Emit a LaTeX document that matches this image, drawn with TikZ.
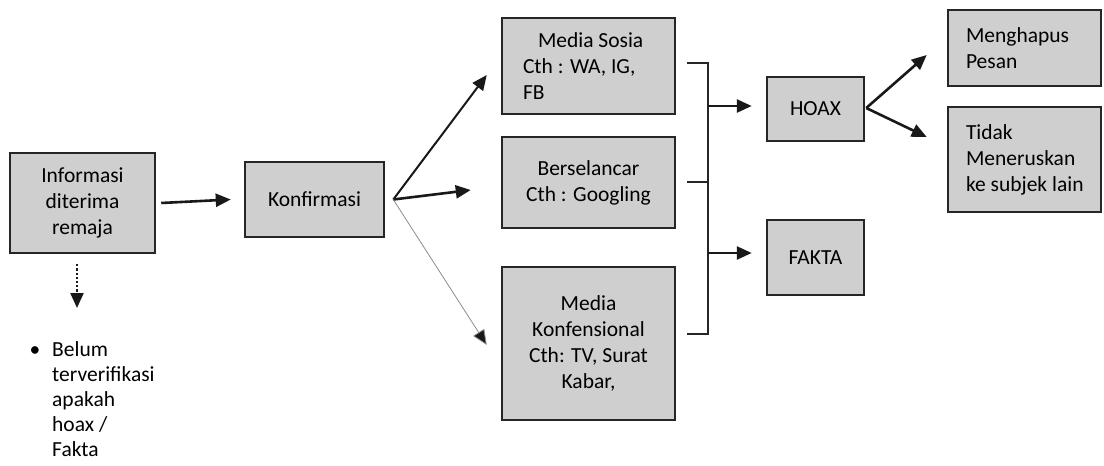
\documentclass[tikz,border=0pt]{standalone}
\usepackage{fontspec}
\setmainfont{Carlito}
\usetikzlibrary{arrows.meta}
\begin{document}
\begin{tikzpicture}[x=1pt,y=-1pt,
  box/.style={draw=black!85, line width=2.5pt, fill=black!19, inner sep=0pt,
    font=\fontsize{21.5}{26}\selectfont, align=flush center, text=black},
  lbox/.style={box, align=flush left},
  arr/.style={line width=2.6pt, draw=black!90, -{Triangle[length=15pt,width=13pt]}},
  thinarr/.style={line width=0.8pt, draw=black!45, -{Triangle[length=15pt,width=13pt,fill=black!90]}},
  brk/.style={line width=2.4pt, draw=black!85},
  note/.style={font=\fontsize{21.5}{25}\selectfont, align=flush left, inner sep=0pt, text=black}
]
\useasboundingbox (0,0) rectangle (1104,466);
% boxes
\node[box, minimum width=145pt, minimum height=100pt] (info) at (82.5,203) {Informasi\\diterima\\remaja};
\node[box, minimum width=139pt, minimum height=75pt] (konf) at (314.5,199.5) {Konfirmasi};
\node[lbox, minimum width=173pt, minimum height=96pt, text width=131pt] (sosia) at (588.5,66) {\mbox{\hspace*{15pt}Media Sosia}\\\mbox{Cth : WA, IG,}\\\mbox{FB}};
\node[box, minimum width=173pt, minimum height=91pt] (selancar) at (588.5,182.5) {Berselancar\\Cth : Googling};
\node[box, minimum width=173pt, minimum height=153pt] (konv) at (588.5,343.5) {Media\\Konfensional\\Cth: TV, Surat\\Kabar,};
\node[box, minimum width=97pt, minimum height=64pt] (hoax) at (815.5,109) {HOAX};
\node[box, minimum width=97pt, minimum height=75pt] (fakta) at (815.5,257.5) {FAKTA};
\node[lbox, minimum width=153pt, minimum height=76pt, text width=117pt] (hapus) at (1024.5,48) {\mbox{Menghapus}\\\mbox{Pesan}};
\node[lbox, minimum width=153pt, minimum height=105pt, text width=117pt] (tidak) at (1024.5,159.5) {\mbox{Tidak}\\\mbox{Meneruskan}\\\mbox{ke subjek lain}};
% note
\node[note, anchor=center] (bul) at (35,352) {\textbullet};
\node[note, anchor=north west] (txt) at (52,341) {Belum\\terverifikasi\\apakah\\hoax /\\Fakta};
% connectors
\draw[arr] ([xshift=5pt]info.east) -- ([xshift=-13pt]konf.west);
\coordinate (dotend) at (77,308);
\draw[line width=2.2pt, dotted, draw=black!90, -{Triangle[length=15pt,width=13pt]}] ([shift={(-5.5,10)}]info.south) -- (dotend);
\draw[line width=2pt, draw=black!90, -{Triangle[length=15pt,width=13pt]}] ([xshift=8pt]konf.east) -- ([shift={(-14,9)}]sosia.west);
\draw[arr] ([xshift=8pt]konf.east) -- ([shift={(-30,7.5)}]selancar.west);
\draw[thinarr] ([xshift=8pt]konf.east) -- ([shift={(-14,1.5)}]konv.west);
% bracket
\coordinate (bt) at (708,63);
\coordinate (bm) at (708,182);
\coordinate (bb) at (708,334);
\coordinate (bh) at (708,106);
\coordinate (bf) at (708,253);
\draw[brk] ([shift={(11,-3)}]sosia.east) -- (bt) -- (bb) -- ([shift={(11,-9.5)}]konv.east);
\draw[brk] ([shift={(11,-0.5)}]selancar.east) -- (bm);
\draw[arr] (bh) -- ([shift={(-14,-3)}]hoax.west);
\draw[arr] (bf) -- ([shift={(-14,-4.5)}]fakta.west);
\draw[arr] ([shift={(1,-1)}]hoax.east) -- ([shift={(-20,7)}]hapus.west);
\draw[arr] ([shift={(1,-1)}]hoax.east) -- ([shift={(-20,-22.5)}]tidak.west);
\end{tikzpicture}
\end{document}
